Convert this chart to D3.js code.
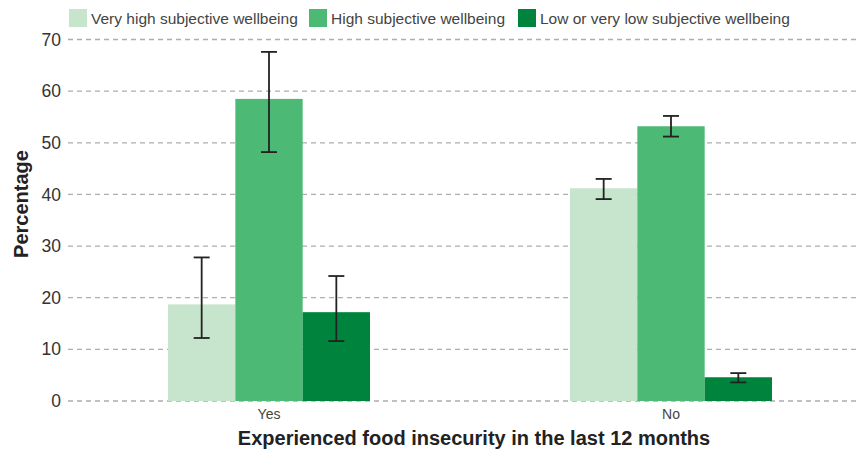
<!DOCTYPE html>
<html>
<head>
<meta charset="utf-8">
<script src="https://cdn.jsdelivr.net/npm/d3@7"></script>
<style>
  html, body { margin: 0; padding: 0; background: #fff; }
  svg { display: block; font-family: "Liberation Sans", Arial, Helvetica, sans-serif; }
</style>
</head>
<body>
<svg id="chart" width="858" height="452"></svg>
<script>
// Groups on the x axis
const categories = ["Yes", "No"];
// Wellbeing series
const seriesNames = [
  "Very high subjective wellbeing",
  "High subjective wellbeing",
  "Low or very low subjective wellbeing"
];
const seriesColors = ["#c6e5cc", "#4cb974", "#00843d"];
// Percentages per series, in the order of categories
const veryHigh = [18.7, 41.2];
const high = [58.5, 53.2];
const low = [17.2, 4.6];
// 95% confidence interval bounds
const veryHighLower = [12.2, 39.1];
const veryHighUpper = [27.8, 43.0];
const highLower = [48.2, 51.2];
const highUpper = [67.6, 55.2];
const lowLower = [11.6, 3.6];
const lowUpper = [24.2, 5.4];
const yTicks = [0, 10, 20, 30, 40, 50, 60, 70];

const values = [veryHigh, high, low];
const lowers = [veryHighLower, highLower, lowLower];
const uppers = [veryHighUpper, highUpper, lowUpper];

const rows = [];
categories.forEach((c, ci) => {
  seriesNames.forEach((s, si) => {
    rows.push({ cat: c, series: s, si, value: values[si][ci], lo: lowers[si][ci], hi: uppers[si][ci] });
  });
});

const svg = d3.select("#chart");
const plotLeft = 68, plotRight = 872, plotTop = 39.5, plotBottom = 401;

const x0 = d3.scaleBand().domain(categories).range([plotLeft, plotRight]).padding(0);
const x1 = d3.scaleBand().domain(seriesNames).range([100, 302]).padding(0);
const y = d3.scaleLinear().domain([0, 70]).range([plotBottom, plotTop]);
const color = d3.scaleOrdinal().domain(seriesNames).range(seriesColors);

// Horizontal dashed gridlines
svg.append("g")
  .selectAll("line")
  .data(yTicks)
  .join("line")
  .attr("x1", plotLeft)
  .attr("x2", 858)
  .attr("y1", d => y(d))
  .attr("y2", d => y(d))
  .attr("stroke", "#adadad")
  .attr("stroke-width", 1.3)
  .attr("stroke-dasharray", "5,4");

// Y axis tick labels
const yAxis = d3.axisLeft(y).tickValues(yTicks).tickSize(0).tickPadding(0);
const gy = svg.append("g").attr("transform", `translate(61,0)`).call(yAxis);
gy.select(".domain").remove();
gy.selectAll("text")
  .attr("font-size", 17.5)
  .attr("fill", "#333")
  .attr("font-family", "'Liberation Sans', Arial, sans-serif");

// Bars
svg.append("g")
  .selectAll("rect")
  .data(rows)
  .join("rect")
  .attr("x", d => x0(d.cat) + x1(d.series))
  .attr("width", x1.bandwidth())
  .attr("y", d => y(d.value))
  .attr("height", d => y(0) - y(d.value))
  .attr("fill", d => color(d.series));

// Error bars
const capHalf = 8;
const eb = svg.append("g")
  .selectAll("g")
  .data(rows)
  .join("g")
  .attr("transform", d => `translate(${x0(d.cat) + x1(d.series) + x1.bandwidth() / 2},0)`)
  .attr("stroke", "#222")
  .attr("stroke-width", 1.8);
eb.append("line").attr("y1", d => y(d.lo)).attr("y2", d => y(d.hi));
eb.append("line").attr("x1", -capHalf).attr("x2", capHalf).attr("y1", d => y(d.hi)).attr("y2", d => y(d.hi));
eb.append("line").attr("x1", -capHalf).attr("x2", capHalf).attr("y1", d => y(d.lo)).attr("y2", d => y(d.lo));

// X axis category labels
const xAxis = d3.axisBottom(x0).tickSize(0).tickPadding(0);
const gx = svg.append("g").attr("transform", `translate(0,${plotBottom + 8})`).call(xAxis);
gx.select(".domain").remove();
gx.selectAll("text")
  .attr("font-size", 14)
  .attr("fill", "#444")
  .attr("font-family", "'Liberation Sans', Arial, sans-serif");

// Axis titles
svg.append("text")
  .attr("x", (plotLeft + plotRight) / 2 + 4)
  .attr("y", 445)
  .attr("text-anchor", "middle")
  .attr("font-size", 20)
  .attr("font-weight", "bold")
  .attr("fill", "#222")
  .text("Experienced food insecurity in the last 12 months");

svg.append("text")
  .attr("transform", "translate(28,204) rotate(-90)")
  .attr("text-anchor", "middle")
  .attr("font-size", 20)
  .attr("font-weight", "bold")
  .attr("fill", "#222")
  .text("Percentage");

// Legend
const legendX = [69, 309, 518];
const legend = svg.append("g")
  .selectAll("g")
  .data(seriesNames)
  .join("g")
  .attr("transform", (d, i) => `translate(${legendX[i]},9)`);
legend.append("rect")
  .attr("width", 18)
  .attr("height", 18)
  .attr("fill", d => color(d));
legend.append("text")
  .attr("x", 22)
  .attr("y", 14.5)
  .attr("font-size", 15.5)
  .attr("fill", "#444")
  .text(d => d);
</script>
</body>
</html>
